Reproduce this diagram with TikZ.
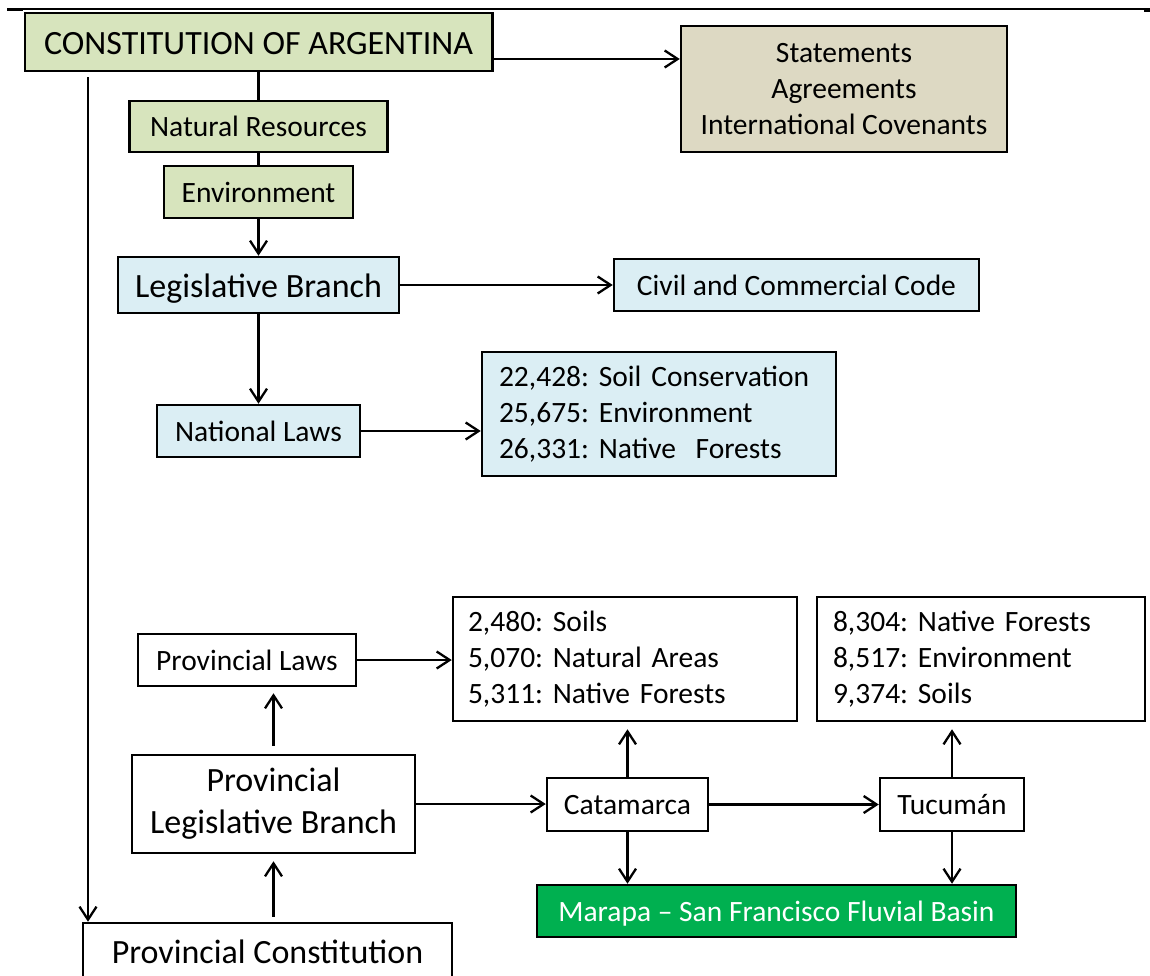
\documentclass[tikz,border=0pt]{standalone}
\usepackage{fontspec}
\setmainfont{Carlito}
\usetikzlibrary{arrows.meta}
\definecolor{olivebox}{HTML}{D7E4BD}
\definecolor{tanbox}{HTML}{DDD9C3}
\definecolor{bluebox}{HTML}{DBEEF4}
\definecolor{basingreen}{HTML}{00B050}
\tikzset{
  box/.style={draw=black, line width=2.5pt, inner sep=0pt, anchor=center},
  normtxt/.style={font=\fontsize{29.5}{36}\selectfont\frenchspacing},
  bigtxt/.style={font=\fontsize{34}{42}\selectfont\frenchspacing},
  oneN/.style={box, normtxt, text height=20.5pt, text depth=0pt},
  oneB/.style={box, bigtxt, text height=24pt, text depth=0pt},
  listbox/.style={box, normtxt, align=left, execute at begin node={\hyphenpenalty=10000\relax}},
  conn/.style={line width=2.3pt, draw=black},
  arr/.style={conn, -{Straight Barb[length=13pt,width=17pt,line width=2.3pt]}}
}
\begin{document}
\frenchspacing
\begin{tikzpicture}[x=1pt,y=-1pt]
\useasboundingbox (0,0) rectangle (1150,976);
\clip (0,0) rectangle (1150,976);
% top rule
\draw[line width=1.8pt] (7,9) -- (1150,9);
\draw[line width=3pt] (7,9.5) -- (23,9.5);
\draw[line width=3pt] (1144,11) -- (1150,11);

% national part
\node[oneB, fill=olivebox, minimum width=467.5pt, minimum height=58pt, text height=26pt] (const) at (258.5,42) {CONSTITUTION OF ARGENTINA};
\node[box, normtxt, fill=tanbox, align=center, minimum width=326pt, minimum height=126pt] (stmt) at (844,89) {Statements\\Agreements\\International Covenants};
\node[oneN, fill=olivebox, minimum width=258pt, minimum height=51pt] (natres) at (258.5,126.5) {Natural Resources};
\node[oneN, fill=olivebox, minimum width=189pt, minimum height=52pt] (env) at (258.5,192) {Environment};
\node[oneB, fill=bluebox, minimum width=281pt, minimum height=56pt] (leg) at (258.5,285) {Legislative Branch};
\node[oneN, fill=bluebox, minimum width=365pt, minimum height=52pt] (civil) at (796.5,285) {Civil and Commercial Code};
\node[oneN, fill=bluebox, minimum width=203pt, minimum height=52pt] (natl) at (258.5,431) {National Laws};
\node[listbox, fill=bluebox, text width=320pt, minimum width=354pt, minimum height=124pt] (laws) at (659,414) {22,428: Soil Conservation\\25,675: Environment\\26,331: Native\ \ Forests};

% provincial part
\node[oneN, fill=white, minimum width=218pt, minimum height=52pt] (provlaws) at (247,660) {Provincial Laws};
\node[listbox, fill=white, text width=314pt, minimum width=344pt, minimum height=124pt] (boxA) at (625,659) {2,480: Soils\\5,070: Natural Areas\\5,311: Native Forests};
\node[listbox, fill=white, text width=296pt, minimum width=328pt, minimum height=124pt] (boxB) at (981,659) {8,304: Native Forests\\8,517: Environment\\9,374: Soils};
\node[box, bigtxt, fill=white, align=center, minimum width=283pt, minimum height=98pt] (plb) at (273.5,804) {Provincial\\Legislative Branch};
\node[oneN, fill=white, minimum width=161pt, minimum height=53pt] (cat) at (627.5,804.5) {Catamarca};
\node[oneN, fill=white, minimum width=144pt, minimum height=53pt] (tuc) at (952,804.5) {Tucumán};
\node[oneN, fill=basingreen, text=white, minimum width=479pt, minimum height=52pt] (basin) at (776.5,911) {Marapa – San Francisco Fluvial Basin};
\node[oneB, fill=white, minimum width=369pt, minimum height=56pt] (provc) at (267.5,951) {Provincial Constitution};

% connectors
\draw[arr] ([yshift=-17pt]const.east) -- ([yshift=-17pt]const.east -| stmt.west);
\draw[conn] (const.south) -- (natres.north);
\draw[conn] (natres.south) -- (env.north);
\draw[arr] (env.south) -- (leg.north);
\draw[arr] (leg.east) -- (civil.west);
\draw[arr] (leg.south) -- (natl.north);
\draw[arr] (natl.east) -- (natl.east -| laws.west);
\draw[arr] ([xshift=64.5pt,yshift=-5pt]const.south west) -- ([xshift=64.5pt]const.south west |- provc.north);

\draw[arr] (provlaws.east) -- (provlaws.east -| boxA.west);
\draw[arr, shorten <=8pt, shorten >=6pt] (plb.north) -- (plb.north |- provlaws.south);
\draw[arr, shorten <=5pt, shorten >=7pt] (plb.south |- provc.north) -- (plb.south);
\draw[arr] (plb.east) -- (plb.east -| cat.west);
\draw[arr] (cat.east) -- (tuc.west);
\draw[arr, shorten >=7pt] (cat.north) -- (cat.north |- boxA.south);
\draw[arr, shorten >=7pt] (tuc.north) -- (tuc.north |- boxB.south);
\draw[arr] (cat.south) -- (cat.south |- basin.north);
\draw[arr] (tuc.south) -- (tuc.south |- basin.north);
\end{tikzpicture}
\end{document}
